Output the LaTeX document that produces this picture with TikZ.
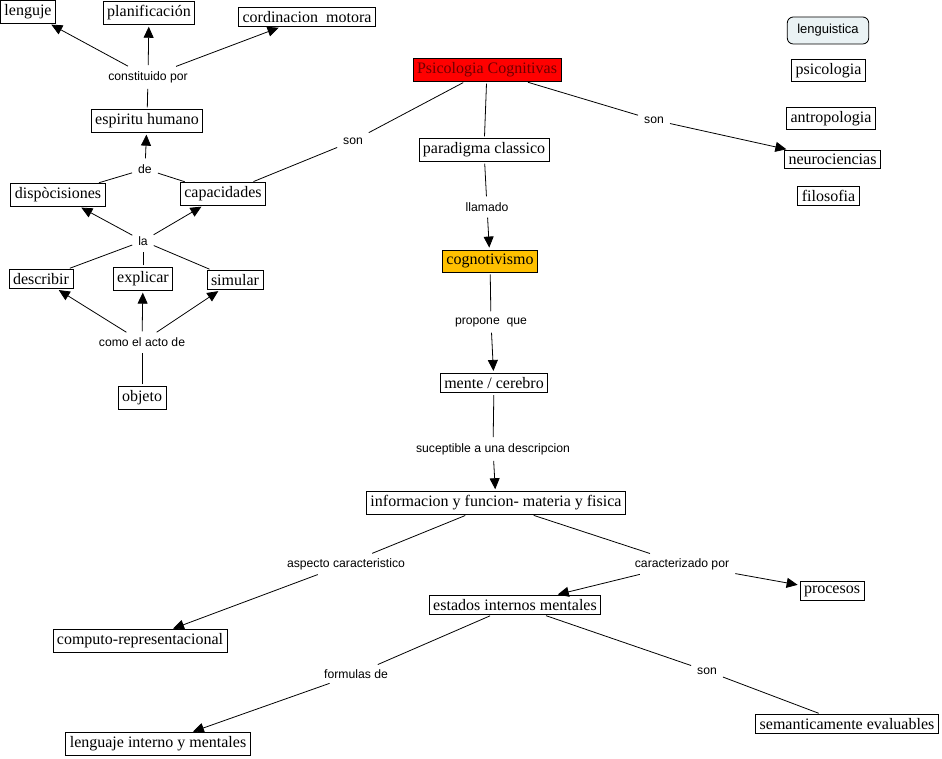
\documentclass[tikz,border=0pt]{standalone}
\usepackage{fontspec}
\setmainfont{Liberation Serif}
\setsansfont{Liberation Sans}
\usetikzlibrary{arrows.meta}
\definecolor{psired}{HTML}{FF0000}
\definecolor{psitext}{HTML}{6E0000}
\definecolor{cogfill}{HTML}{FFC000}
\definecolor{lingfill}{HTML}{EAF2F4}
\tikzset{
  cbox/.style={draw, line width=0.8pt, inner xsep=4pt, inner ysep=4pt,
    font=\fontsize{16}{19}\selectfont},
  lbl/.style={inner sep=4pt, font=\sffamily\fontsize{12.2}{14}\selectfont},
  ln/.style={line width=0.8pt, shorten <=2pt, shorten >=2pt},
  arr/.style={ln, -{Triangle[length=11pt,width=10pt]}},
}
\begin{document}
\begin{tikzpicture}[x=1pt,y=-1pt]
\useasboundingbox[fill=white] (0,0) rectangle (942,759);

% left cluster
\node[cbox] (lenguje) at (28,12) {lenguje};
\node[cbox] (planif) at (149,13) {planificación};
\node[cbox] (cordin) at (307,17) {cordinacion\ \ motora};
\node[lbl] (constit) at (148,77) {constituido por};
\node[cbox] (espiritu) at (147,121) {espiritu humano};
\node[lbl] (de) at (145,169) {de};
\node[cbox] (dispo) at (58,195) {dispòcisiones};
\node[cbox] (capac) at (223,194) {capacidades};
\node[lbl] (sonL) at (353,141) {son};
\node[lbl] (la) at (143,241) {la};
\node[cbox] (describir) at (41,279) {describir};
\node[cbox] (explicar) at (143,279) {explicar};
\node[cbox] (simular) at (235,280) {simular};
\node[lbl] (como) at (142,342) {como el acto de};
\node[cbox] (objeto) at (142,398) {objeto};

% center column
\node[cbox, fill=psired, text=psitext] (psico) at (487,70) {Psicologia Cognitivas};
\node[cbox] (paradigma) at (484,150) {paradigma classico};
\node[lbl] (llamado) at (487,207) {llamado};
\node[cbox, fill=cogfill] (cogno) at (490,261) {cognotivismo};
\node[lbl] (propone) at (491,322) {propone\ \ que};
\node[cbox] (mente) at (494,383) {mente / cerebro};
\node[lbl] (sucept) at (493,449) {suceptible a una descripcion};
\node[cbox] (info) at (496,503) {informacion y funcion- materia y fisica};
\node[lbl] (aspecto) at (346,564) {aspecto caracteristico};
\node[lbl] (caract) at (682,564) {caracterizado por};
\node[cbox] (procesos) at (832,591) {procesos};
\node[cbox] (estados) at (515,605) {estados internos mentales};
\node[cbox] (computo) at (140,641) {computo-representacional};
\node[lbl] (formulas) at (356,674) {formulas de};
\node[lbl] (sonB) at (707,671) {son};
\node[cbox] (semant) at (847,724) {semanticamente evaluables};
\node[cbox] (lengint) at (158,744) {lenguaje interno y mentales};

% right column
\node[lbl] (sonR) at (654,120) {son};
\node[draw, line width=0.8pt, rounded corners=6pt, fill=lingfill, inner xsep=10pt,
  minimum height=27pt, font=\sffamily\fontsize{13}{15}\selectfont] (lengu) at (828,30.5) {lenguistica};
\node[cbox] (psicologia) at (828.5,70.5) {psicologia};
\node[cbox] (antro) at (831,118.5) {antropologia};
\node[cbox] (neuro) at (832.5,159.5) {neurociencias};
\node[cbox] (filo) at (828.5,196) {filosofia};

% connectors left
\draw[ln] (espiritu) -- (constit);
\draw[arr] (constit) -- (lenguje);
\draw[arr] (constit) -- (planif);
\draw[arr] (constit) -- (cordin);
\draw[ln] (dispo) -- (de);
\draw[ln] (capac) -- (de);
\draw[arr] (de) -- (espiritu);
\draw[ln] (capac) -- (sonL);
\draw[ln] (sonL) -- (psico);
\draw[ln] (describir) -- (la);
\draw[ln] (explicar) -- (la);
\draw[ln] (simular) -- (la);
\draw[arr] (la) -- (dispo);
\draw[arr] (la) -- (capac);
\draw[ln] (objeto) -- (como);
\draw[arr] (como) -- (describir);
\draw[arr] (como) -- (explicar);
\draw[arr] (como) -- (simular);

% connectors center
\draw[ln] (psico) -- (paradigma);
\draw[ln] (paradigma) -- (llamado);
\draw[arr] (llamado) -- (cogno);
\draw[ln] (cogno) -- (propone);
\draw[arr] (propone) -- (mente);
\draw[ln] (mente) -- (sucept);
\draw[arr] (sucept) -- (info);
\draw[ln] (info) -- (aspecto);
\draw[arr] (aspecto) -- (computo);
\draw[ln] (info) -- (caract);
\draw[arr] (caract) -- (estados);
\draw[arr] (caract) -- (procesos);
\draw[ln] (estados) -- (formulas);
\draw[arr] (formulas) -- (lengint);
\draw[ln] (estados) -- (sonB);
\draw[ln] (sonB) -- (semant);
\draw[ln] (psico) -- (sonR);
\draw[arr] (sonR) -- (neuro);
\end{tikzpicture}
\end{document}
